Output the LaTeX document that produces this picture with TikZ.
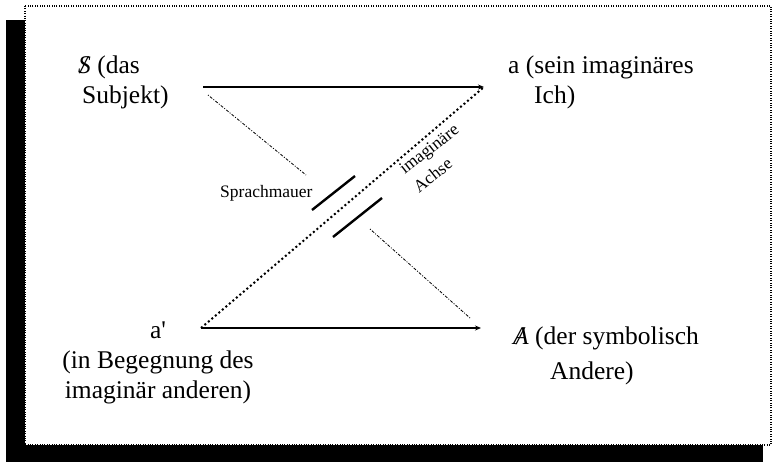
\documentclass[tikz,border=0pt]{standalone}
\usepackage{fontspec}
\setmainfont{Liberation Serif}
\usetikzlibrary{arrows.meta}

% durchgestrichener Buchstabe
\newcommand{\barred}[1]{\ooalign{\textit{#1}\cr\hidewidth\textit{/}\hidewidth}}

\begin{document}
\begin{tikzpicture}[x=1pt, y=-1pt,
	txt/.style={inner sep=0pt, font=\fontsize{25.5}{30}\selectfont},
	klein/.style={inner sep=0pt, font=\fontsize{17.5}{23}\selectfont},
	achse/.style={-{Stealth[length=6pt,width=5pt]}, line width=2.4pt},
	punkte/.style={line width=2pt, dash pattern=on 2pt off 2.6pt},
	strichpunkt/.style={line width=0.8pt, dash pattern=on 1pt off 1.5pt on 3pt off 1.5pt},
	mauer/.style={line width=2.4pt}
	]
	\useasboundingbox (0,0) rectangle (772,464);

	% Rahmen mit Schatten
	\fill (6,20) rectangle (25,462);
	\fill (6,445) rectangle (763,462);
	\draw[line width=1.2pt, dash pattern=on 1pt off 1.4pt] (25,6) rectangle (771,445);

	% Ecken
	\coordinate (S) at (203,87);
	\coordinate (a) at (484,87);
	\coordinate (ap) at (201,328);
	\coordinate (A) at (481,328);
	\coordinate (m1) at (208,95);
	\coordinate (m2) at (306,175);
	\coordinate (m3) at (370,229);
	\coordinate (m4) at (470,318);
	\coordinate (w1) at (312,210);
	\coordinate (w2) at (355,176);
	\coordinate (w3) at (333,237);
	\coordinate (w4) at (382,198);

	% base = Grundlinie der letzten Zeile
	\node[txt, anchor=base west, align=left] (subj) at (78,103) {\barred{S} (das\\ \hspace*{4pt}Subjekt)};
	\node[txt, anchor=base west, align=left] (ich) at (508,103) {a (sein imaginäres\\ \hspace*{26pt}Ich)};
	\node[txt, anchor=base, align=center] (aprime) at (158,398) {a\textquotesingle\\(in Begegnung des\\imaginär anderen)};
	\node[txt, anchor=base west, align=left] (anderer) at (513,379) {\barred{A} (der symbolisch\\[5pt] \hspace*{37pt}Andere)};

	\node[klein, anchor=base west] (mauer) at (220,197) {Sprachmauer};
	\node[klein, align=left, rotate=38] (imag) at (436,158) {imaginäre\\Achse};

	\draw[achse] (S) -- (a);
	\draw[achse] (ap) -- (A);
	\draw[punkte] (ap) -- (a);
	\draw[strichpunkt] (m1) -- (m2);
	\draw[strichpunkt] (m3) -- (m4);
	\draw[mauer] (w1) -- (w2);
	\draw[mauer] (w3) -- (w4);
\end{tikzpicture}
\end{document}
